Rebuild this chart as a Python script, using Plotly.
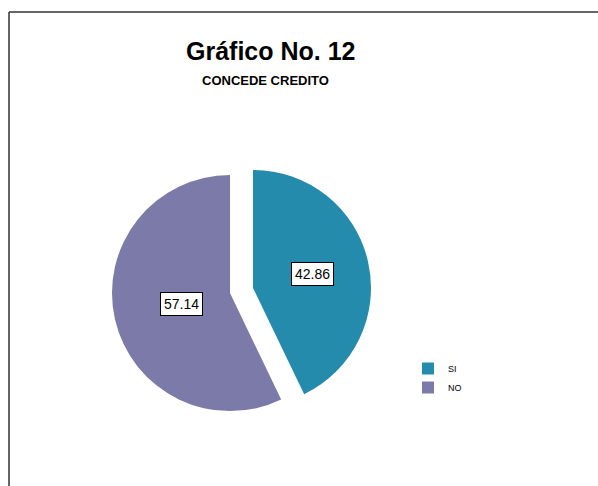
import math
import plotly.graph_objects as go

labels = ["SI", "NO"]
values = [42.86, 57.14]
colors = ["#258bad", "#7b7aa9"]
title_text = "Gráfico No. 12"
subtitle_text = "CONCEDE CREDITO"

W, H = 598, 486
FONT = "Liberation Sans, Arial"
pull = 0.1
# pie box in pixels
cx, cy, R = 241.5, 290.5, 118.0
ext = R * (1 + pull)
dom_x = [(cx - ext) / W, (cx + ext) / W]
dom_y = [(H - (cy + ext)) / H, (H - (cy - ext)) / H]

fig = go.Figure()
fig.add_trace(go.Pie(
    labels=labels, values=values, sort=False, direction="clockwise", rotation=0,
    marker=dict(colors=colors, line=dict(width=0)),
    pull=[pull, pull], textinfo="none", hoverinfo="label+value",
    domain=dict(x=dom_x, y=dom_y),
))

# label boxes placed from the values
total = sum(values)
start = 0.0
factors = [0.52, 0.42]
annos = []
for v, f in zip(values, factors):
    mid = (start + v / 2) / total * 2 * math.pi
    start += v
    dx, dy = math.sin(mid), math.cos(mid)
    px = cx + dx * R * pull + dx * R * f
    py = cy - dy * R * pull - dy * R * f
    annos.append(dict(x=px / W, y=1 - py / H, xref="paper", yref="paper",
                      xanchor="center", yanchor="middle",
                      text=f"{v:.2f}", showarrow=False,
                      font=dict(family=FONT, size=14, color="black"),
                      bgcolor="white", bordercolor="black", borderwidth=1, borderpad=3))

annos.append(dict(x=271 / W, y=1 - 51 / H, xref="paper", yref="paper", text=f"<b>{title_text}</b>",
                  xanchor="center", yanchor="middle",
                  showarrow=False, font=dict(family=FONT, size=25, color="black")))
annos.append(dict(x=265 / W, y=1 - 81 / H, xref="paper", yref="paper", text=f"<b>{subtitle_text}</b>",
                  xanchor="center", yanchor="middle",
                  showarrow=False, font=dict(family=FONT, size=13, color="black")))

fig.update_layout(
    width=W, height=H, margin=dict(l=0, r=0, t=0, b=0),
    paper_bgcolor="white", plot_bgcolor="white",
    annotations=annos,
    showlegend=True,
    legend=dict(x=408 / W, y=1 - 354 / H, xanchor="left", yanchor="top",
                font=dict(family=FONT, size=9, color="black"),
                bgcolor="rgba(0,0,0,0)", tracegroupgap=0, itemwidth=30),
    shapes=[
        dict(type="line", xref="paper", yref="paper", x0=9 / W, x1=1.01, y0=1 - 12 / H, y1=1 - 12 / H,
             line=dict(color="#333333", width=1.5)),
        dict(type="line", xref="paper", yref="paper", x0=9 / W, x1=9 / W, y0=1 - 12 / H, y1=-0.01,
             line=dict(color="#333333", width=1.5)),
    ],
)

fig.write_html("out.html")
